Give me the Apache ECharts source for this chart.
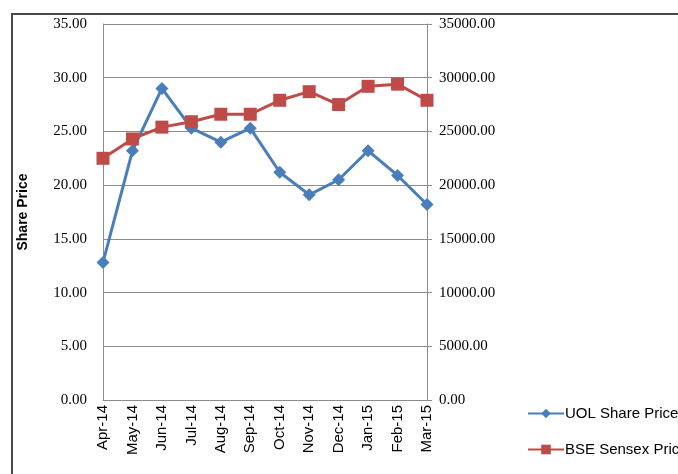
<!DOCTYPE html>
<html>
<head>
<meta charset="utf-8">
<script src="https://cdn.jsdelivr.net/npm/echarts@6/dist/echarts.min.js"></script>
<style>
  html, body { margin: 0; padding: 0; background: #fff; }
  #chart { width: 678px; height: 474px; }
</style>
</head>
<body>
<div id="chart"></div>
<script>
const months = ['Apr-14', 'May-14', 'Jun-14', 'Jul-14', 'Aug-14', 'Sep-14',
  'Oct-14', 'Nov-14', 'Dec-14', 'Jan-15', 'Feb-15', 'Mar-15']
const uolPrice = [12.8, 23.2, 29.0, 25.3, 24.0, 25.3, 21.2, 19.1, 20.5, 23.2, 20.9, 18.2]
const sensexPrice = [22500, 24300, 25400, 25900, 26600, 26600, 27900, 28700, 27500, 29200, 29400, 27900]

const chart = echarts.init(document.getElementById('chart'))

const gridLine = { lineStyle: { color: '#8c8c8c', width: 1 } }

chart.setOption({
  animation: false,
  graphic: [{
    type: 'polyline',
    shape: { points: [[12, 474], [12, 14], [678, 14]] },
    style: { stroke: '#4a4a4a', lineWidth: 2, fill: null }
  }],
  grid: { left: 103, right: 251, top: 24, bottom: 74 },
  legend: {
    orient: 'vertical',
    left: 522,
    top: 401,
    itemGap: 21,
    itemWidth: 36,
    itemHeight: 12,
    textStyle: { fontFamily: 'Liberation Sans', fontSize: 15, color: '#000', padding: [0, 0, 0, -4] },
    data: ['UOL Share Price', 'BSE Sensex Price']
  },
  xAxis: {
    type: 'category',
    data: months,
    boundaryGap: false,
    axisLine: { lineStyle: { color: '#8c8c8c' } },
    axisTick: { show: false },
    axisLabel: {
      rotate: 90,
      margin: 5,
      interval: 0,
      color: '#000',
      fontFamily: 'Liberation Sans',
      fontSize: 15
    }
  },
  yAxis: [{
    type: 'value',
    min: 0,
    max: 35,
    interval: 5,
    name: 'Share Price',
    nameLocation: 'middle',
    nameGap: 73,
    nameTextStyle: { fontWeight: 'bold', fontSize: 14, color: '#000', fontFamily: 'Liberation Sans' },
    axisLine: { show: true, lineStyle: { color: '#8c8c8c' } },
    axisTick: { show: false },
    splitLine: gridLine,
    axisLabel: {
      margin: 16,
      color: '#000',
      fontFamily: 'Liberation Serif',
      fontSize: 15,
      formatter: (v) => v.toFixed(2)
    }
  }, {
    type: 'value',
    min: 0,
    max: 35000,
    interval: 5000,
    position: 'right',
    axisLine: { show: true, lineStyle: { color: '#8c8c8c' } },
    axisTick: { show: true, length: 5, lineStyle: { color: '#8c8c8c' } },
    splitLine: { show: false },
    axisLabel: {
      margin: 12,
      color: '#000',
      fontFamily: 'Liberation Serif',
      fontSize: 15,
      formatter: (v) => v.toFixed(2)
    }
  }],
  series: [{
    name: 'UOL Share Price',
    type: 'line',
    yAxisIndex: 0,
    data: uolPrice,
    symbol: 'diamond',
    symbolSize: 13,
    itemStyle: { color: '#4a7ebb' },
    lineStyle: { color: '#4a7ebb', width: 3 }
  }, {
    name: 'BSE Sensex Price',
    type: 'line',
    yAxisIndex: 1,
    data: sensexPrice,
    symbol: 'rect',
    symbolSize: 13,
    itemStyle: { color: '#be4b48' },
    lineStyle: { color: '#be4b48', width: 3 }
  }]
})
</script>
</body>
</html>
